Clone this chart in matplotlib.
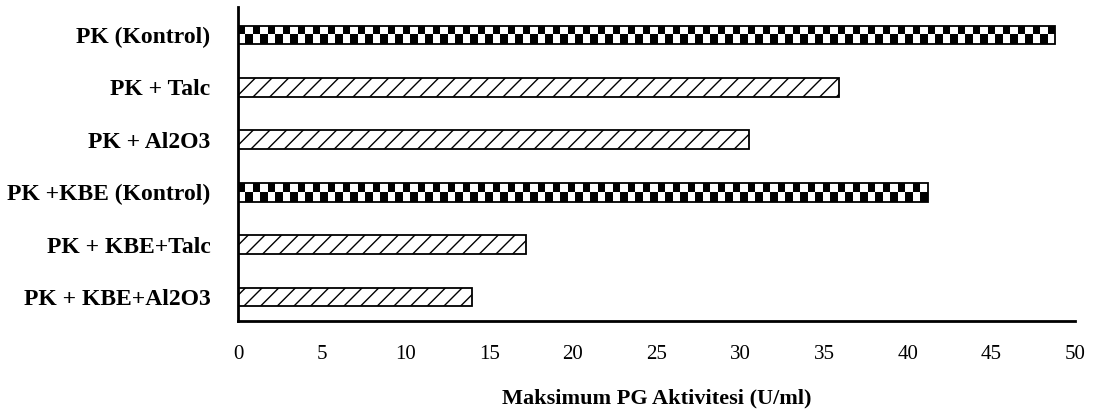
import numpy as np
import matplotlib
matplotlib.use("Agg")
import matplotlib.pyplot as plt

plt.rcParams['font.family'] = ['Liberation Serif', 'DejaVu Serif']
plt.rcParams['hatch.linewidth'] = 1.0

groups = ['PK (Kontrol)', 'PK + Talc', 'PK + Al2O3',
          'PK +KBE (Kontrol)', 'PK + KBE+Talc', 'PK + KBE+Al2O3']
activity = [48.8, 35.9, 30.5, 41.2, 17.2, 14.0]
is_control = [True, False, False, True, False, False]
xticks = [0, 5, 10, 15, 20, 25, 30, 35, 40, 45, 50]

fig = plt.figure(figsize=(10.97, 4.15), dpi=100)
ax = fig.add_axes([0.217, 0.2265, 0.763, 0.7565])

ypos = np.arange(len(groups))
bar_h = 0.36
bars = ax.barh(ypos, activity, height=bar_h, color='white', edgecolor='black', linewidth=1.3)

ax.set_xlim(0, 50)
ax.set_ylim(5.457, -0.533)

# checkerboard fill for the control bars, hatched fill for the rest
for b, ctrl in zip(bars, is_control):
    if not ctrl:
        b.set_hatch('//')
        continue
    x0, y0 = b.get_x(), b.get_y()
    w, h = b.get_width(), b.get_height()
    p0 = ax.transData.transform((x0, y0))
    p1 = ax.transData.transform((x0 + w, y0 + h))
    nx = max(1, int(round(abs(p1[0] - p0[0]) / 7.5)))
    ny = 2
    checker = (np.add.outer(np.arange(ny), np.arange(nx)) % 2).astype(float)
    im = ax.imshow(checker, cmap='gray', vmin=0, vmax=1, aspect='auto',
                   interpolation='nearest', extent=(x0, x0 + w, y0 + h, y0), zorder=1.5)
    im.set_clip_path(b)
    b.set_zorder(2)
    b.set_facecolor('none')

ax.set_xlim(0, 50)
ax.set_ylim(5.457, -0.533)

ax.set_yticks(ypos)
ax.set_yticklabels(groups, fontsize=17, fontweight='bold')
ax.set_xticks(xticks)
ax.set_xticklabels([str(t) for t in xticks], fontsize=15)
ax.tick_params(axis='both', length=0)
ax.tick_params(axis='x', pad=17)
ax.tick_params(axis='y', pad=20)

for side in ['top', 'right']:
    ax.spines[side].set_visible(False)
for side in ['left', 'bottom']:
    ax.spines[side].set_linewidth(2)

ax.set_xlabel('Maksimum PG Aktivitesi (U/ml)', fontsize=16, fontweight='bold', labelpad=18)

fig.savefig('out.png', dpi=100)
